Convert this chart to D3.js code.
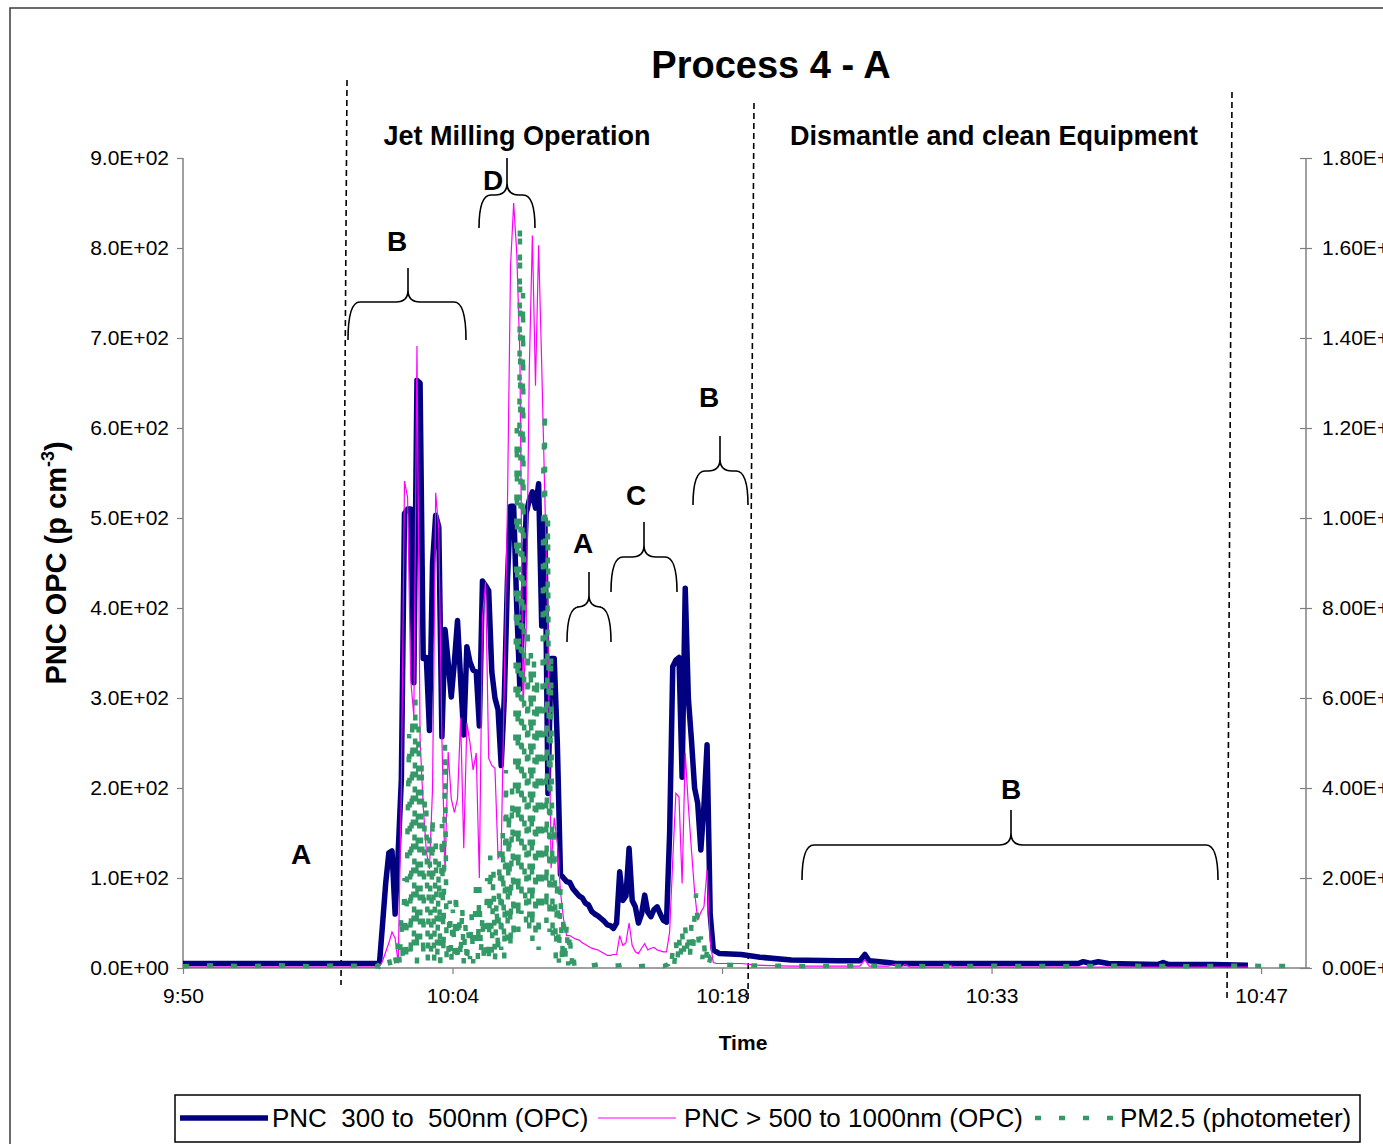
<!DOCTYPE html>
<html>
<head>
<meta charset="utf-8">
<script src="https://d3js.org/d3.v7.min.js"></script>
<style>
body { margin: 0; background: #fff; }
text { font-family: "Liberation Sans", Arial, sans-serif; }
</style>
</head>
<body>
<script>
// all times are seconds after 9:50:00

// OPC counter, quiet period before the milling
var opcBefore = [0, 150, 300, 450, 590];
var blueBefore = [5, 5, 5, 5, 5];
var magentaBefore = [1, 1, 1, 1, 1];

// OPC during the milling, logged every 10 s
var opcBurst = d3.range(600, 1730, 10);
var blueBurst = [
  5, 5, 5, 6, 50, 95, 128, 130, 60, 130,
  210, 505, 510, 510, 317, 653, 650, 344, 345, 264,
  450, 503, 490, 257, 376, 340, 301, 340, 386, 320,
  259, 357, 340, 331, 329, 269, 430, 425, 419, 329,
  300, 287, 225, 300, 430, 513, 513, 400, 310, 400,
  505, 520, 529, 511, 538, 380, 499, 194, 344, 344,
  250, 104, 100, 96, 95, 88, 84, 80, 78, 72,
  70, 63, 60, 58, 55, 52, 48, 47, 44, 50,
  107, 75, 80, 133, 75, 68, 50, 60, 81, 62,
  57, 65, 68, 60, 53, 51, 150, 335, 342, 345,
  212, 422, 300, 253, 200, 183, 131, 180, 248, 60,
  20, 18, 16];
var magentaBurst = [
  1, 1, 1, 2, 8, 18, 28, 40, 33, 5,
  200, 541, 523, 320, 280, 691, 255, 180, 130, 110,
  200, 528, 487, 255, 106, 240, 188, 173, 188, 278,
  133, 272, 250, 220, 239, 100, 390, 429, 233, 225,
  222, 122, 128, 318, 512, 780, 850, 794, 680, 289,
  373, 663, 814, 647, 803, 669, 523, 373, 111, 167,
  139, 85, 54, 36, 36, 34, 32, 31, 28, 26,
  24, 22, 21, 20, 18, 16, 14, 14, 15, 15,
  36, 25, 28, 50, 25, 18, 16, 22, 27, 20,
  22, 23, 20, 19, 18, 18, 40, 120, 194, 190,
  94, 239, 180, 131, 85, 53, 62, 68, 109, 30,
  6, 5, 5];

// OPC after the milling
var opcAfter = [1790, 1850, 1950, 2100, 2170, 2186, 2200, 2260, 2285, 2300, 2315, 2330, 2450,
  2460, 2470, 2700, 2870, 2886, 2909, 2934, 2966, 3126, 3142, 3158, 3300, 3414];
var blueAfter = [15, 12, 9, 8, 8, 15, 8, 6, 5, 5, 5, 5, 5, 5, 5, 5, 5, 7, 5, 7, 5, 4, 6, 4, 4, 3];
var magentaAfter = [5, 3, 2, 2, 2, 9, 2, 2, 4, 1, 4, 1, 1, 3, 1, 1, 1, 1, 1, 1, 1, 1, 1, 1, 1, 1];

// photometer PM2.5 (secondary axis)
var pmBefore = [0, 100, 200, 300, 400, 500, 600, 615];
var pmBeforeValues = [4, 6, 4, 6, 4, 6, 4, 5];
var pmBurst1 = d3.range(620, 1260, 5);
var pmBurst1Values = [
  4, 6, 3, 5, 4, 8,
  10, 4, 20, 6, 14, 4, 24, 6,
  60, 6, 120, 10, 200, 12, 320,
  520, 20, 560, 40, 600, 10, 540, 60, 460, 20, 380,
  360, 10, 300, 30, 340, 10, 280,
  20, 240, 10, 320, 30, 500, 20,
  10, 150, 8, 130, 30, 170, 10, 120, 20, 140,
  10, 100, 8, 80, 20, 120, 10, 90,
  200, 20, 180, 30, 120, 10,
  30, 200, 10, 250, 30, 220, 10, 150,
  30, 260, 40, 300, 20, 440,
  60, 350, 40, 400, 60, 450,
  1200, 80, 1650, 120, 1500, 200,
  100, 760, 80, 700, 60, 690,
  60, 650, 40, 600, 120, 1100,
  1240, 100, 1000, 80, 700, 60,
  320, 20, 200, 12, 180, 10,
  120, 8, 100, 6, 80, 6, 40, 4];
var pmMid = [1270, 1300, 1330, 1360, 1400, 1430, 1460, 1500, 1540, 1555];
var pmMidValues = [6, 4, 8, 4, 6, 10, 4, 6, 4, 8];
var pmBurst2 = d3.range(1560, 1695, 5);
var pmBurst2Values = [20, 6, 40, 8, 60, 14, 70, 20, 80, 30, 90, 40, 80, 20, 100, 30, 120, 166,
  90, 40, 70, 20, 60, 10, 40, 8, 20];
var pmAfter = [1700, 1800, 2000, 2200, 2400, 2600, 2800, 3000, 3200, 3400, 3570];
var pmAfterValues = [8, 6, 4, 5, 4, 5, 4, 5, 4, 5, 4];

// axis ticks
var timeTicks = [0, 864, 1728, 2592, 3456];   // every 0.01 day
var leftTicks = [0, 100, 200, 300, 400, 500, 600, 700, 800, 900];
var rightTicks = [0, 200, 400, 600, 800, 1000, 1200, 1400, 1600, 1800];

var seriesNames = ["PNC  300 to  500nm (OPC)", "PNC > 500 to 1000nm (OPC)", "PM2.5 (photometer)"];

// join the pieces
var opcSeconds = opcBefore.concat(opcBurst, opcAfter);
var blue = blueBefore.concat(blueBurst, blueAfter);
var magenta = magentaBefore.concat(magentaBurst, magentaAfter);
var pmSeconds = pmBefore.concat(pmBurst1, pmMid, pmBurst2, pmAfter);
var pm = pmBeforeValues.concat(pmBurst1Values, pmMidValues, pmBurst2Values, pmAfterValues);

var svg = d3.select("body").append("svg")
            .attr("width", 1383)
            .attr("height", 1144);

svg.append("rect").attr("width", 1383).attr("height", 1144).attr("fill", "#fff");

// chart frame
svg.append("rect")
   .attr("x", 10).attr("y", 8)
   .attr("width", 1420).attr("height", 1200)
   .attr("fill", "none").attr("stroke", "#3a3a3a").attr("stroke-width", 1.5);

var x = d3.scaleLinear().domain([0, 3600]).range([183, 1306]);
var yL = d3.scaleLinear().domain([0, 900]).range([968, 158]);
var yR = d3.scaleLinear().domain([0, 1800]).range([968, 158]);

var t0 = new Date(2000, 0, 1, 9, 50, 0);
var fmtTime = d3.timeFormat("%-H:%M");
function sci(d, n) {
  var s = d.toExponential(n).split("e");
  var e = +s[1];
  return s[0] + "E" + (e < 0 ? "-" : "+") + (Math.abs(e) < 10 ? "0" : "") + Math.abs(e);
}

// axes
var axisColor = "#808080";
var gl = svg.append("g").attr("transform", "translate(183,0)")
            .call(d3.axisLeft(yL).tickValues(leftTicks).tickSize(6).tickPadding(8)
                  .tickFormat(function (d) { return sci(d, 1); }));
var gr = svg.append("g").attr("transform", "translate(1306,0)")
            .call(d3.axisRight(yR).tickValues(rightTicks).tickSize(6).tickPadding(10)
                  .tickFormat(function (d) { return sci(d, 2); }));
gr.selectAll(".tick line").attr("x1", -6);
var gx = svg.append("g").attr("transform", "translate(0,968)")
            .call(d3.axisBottom(x).tickValues(timeTicks).tickSize(6).tickPadding(14)
                  .tickFormat(function (d) { return fmtTime(new Date(+t0 + d * 1000)); }));

[gl, gr, gx].forEach(function (g) {
  g.select(".domain").attr("stroke", axisColor).attr("stroke-width", 1.5);
  g.selectAll(".tick line").attr("stroke", axisColor).attr("stroke-width", 1.2);
  g.selectAll("text").attr("font-size", 21).attr("fill", "#000")
   .style("font-family", "'Liberation Sans', Arial, sans-serif");
});
gl.select(".domain").attr("d", "M0,158V968");
gr.select(".domain").attr("d", "M0,158V968");
gx.select(".domain").attr("d", "M183,0H1310");

// titles
svg.append("text").attr("x", 771).attr("y", 78).attr("text-anchor", "middle")
   .attr("font-size", 38).attr("font-weight", "bold").text("Process 4 - A");
svg.append("text").attr("x", 517).attr("y", 145).attr("text-anchor", "middle")
   .attr("font-size", 27).attr("font-weight", "bold").text("Jet Milling Operation");
svg.append("text").attr("x", 994).attr("y", 145).attr("text-anchor", "middle")
   .attr("font-size", 27).attr("font-weight", "bold").text("Dismantle and clean Equipment");
svg.append("text").attr("x", 743).attr("y", 1050).attr("text-anchor", "middle")
   .attr("font-size", 21).attr("font-weight", "bold").text("Time");

var yt = svg.append("text").attr("transform", "translate(66,563) rotate(-90)")
   .attr("text-anchor", "middle").attr("font-size", 29).attr("font-weight", "bold");
yt.append("tspan").text("PNC OPC (p cm");
yt.append("tspan").attr("font-size", 18).attr("dy", -12).text("-3");
yt.append("tspan").attr("dy", 12).text(")");

// phase separators
var separators = [[347, 80, 341, 985], [754, 103, 748, 1000], [1232, 92, 1227, 1000]];
svg.selectAll("line.sep").data(separators).enter().append("line")
   .attr("x1", function (d) { return d[0]; }).attr("y1", function (d) { return d[1]; })
   .attr("x2", function (d) { return d[2]; }).attr("y2", function (d) { return d[3]; })
   .attr("stroke", "#000").attr("stroke-width", 1.6).attr("stroke-dasharray", "6,4");

// series
function rows(sec, val) { return sec.map(function (s, i) { return [s, val[i]]; }); }
var lineL = d3.line().x(function (d) { return x(d[0]); }).y(function (d) { return yL(d[1]); });
var lineR = d3.line().x(function (d) { return x(d[0]); }).y(function (d) { return yR(d[1]); });

svg.append("path").attr("d", lineL(rows(opcSeconds, blue)))
   .attr("fill", "none").attr("stroke", "#000080").attr("stroke-width", 5.5)
   .attr("stroke-linejoin", "round");
svg.append("path").attr("d", lineL(rows(opcSeconds, magenta)))
   .attr("fill", "none").attr("stroke", "#ff00ff").attr("stroke-width", 1.2);
svg.append("path").attr("d", lineR(rows(pmSeconds, pm)))
   .attr("fill", "none").attr("stroke", "#339966").attr("stroke-width", 4.5)
   .attr("stroke-dasharray", "6,18");

// braces and phase letters
function brace(x1, x2, yEnd, yBar, tipX, yTip) {
  var r = 12;
  return "M" + x1 + "," + yEnd +
    " Q" + x1 + "," + yBar + " " + (x1 + r) + "," + yBar +
    " L" + (tipX - r) + "," + yBar +
    " Q" + tipX + "," + yBar + " " + tipX + "," + (yBar - r) +
    " L" + tipX + "," + yTip +
    " M" + tipX + "," + (yBar - r) +
    " Q" + tipX + "," + yBar + " " + (tipX + r) + "," + yBar +
    " L" + (x2 - r) + "," + yBar +
    " Q" + x2 + "," + yBar + " " + x2 + "," + yEnd;
}
var braces = [
  [348, 466, 340, 302, 408, 268],
  [479, 535, 228, 195, 507, 158],
  [567, 611, 642, 607, 589, 572],
  [611, 677, 592, 557, 644, 522],
  [693, 748, 505, 471, 720, 436],
  [802, 1218, 880, 845, 1011, 810]
];
svg.selectAll("path.brace").data(braces).enter().append("path")
   .attr("d", function (d) { return brace.apply(null, d); })
   .attr("fill", "none").attr("stroke", "#000").attr("stroke-width", 1.6);

var letters = [["B", 397, 251], ["D", 493, 190], ["A", 583, 553], ["C", 636, 505],
               ["B", 709, 407], ["B", 1011, 799], ["A", 301, 864]];
svg.selectAll("text.letter").data(letters).enter().append("text")
   .attr("x", function (d) { return d[1]; }).attr("y", function (d) { return d[2]; })
   .attr("text-anchor", "middle").attr("font-size", 28).attr("font-weight", "bold")
   .text(function (d) { return d[0]; });

// legend
var lg = svg.append("g");
lg.append("rect").attr("x", 175).attr("y", 1095).attr("width", 1185).attr("height", 47)
  .attr("fill", "#fff").attr("stroke", "#000").attr("stroke-width", 1.5);
lg.append("line").attr("x1", 180).attr("x2", 268).attr("y1", 1118).attr("y2", 1118)
  .attr("stroke", "#000080").attr("stroke-width", 5.5);
lg.append("line").attr("x1", 598).attr("x2", 676).attr("y1", 1118).attr("y2", 1118)
  .attr("stroke", "#ff00ff").attr("stroke-width", 1.2);
lg.append("line").attr("x1", 1035).attr("x2", 1117).attr("y1", 1118).attr("y2", 1118)
  .attr("stroke", "#339966").attr("stroke-width", 4.5).attr("stroke-dasharray", "6,18");
var legendX = [272, 684, 1120];
seriesNames.forEach(function (n, i) {
  lg.append("text").attr("x", legendX[i]).attr("y", 1127).attr("font-size", 26)
    .style("white-space", "pre").text(n);
});
</script>
</body>
</html>
